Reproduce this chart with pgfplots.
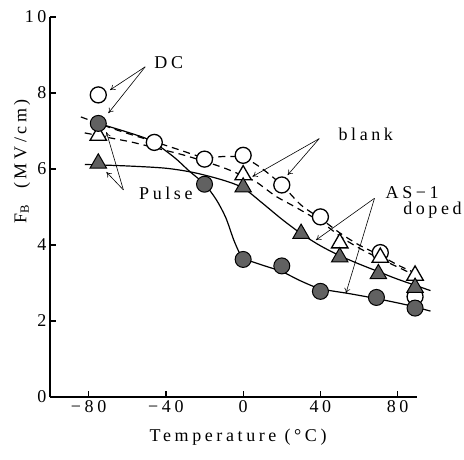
\documentclass[border=0pt]{standalone}
\usepackage{fontspec}
\setmainfont{Liberation Serif}
\newfontfamily\ls{Liberation Serif}[LetterSpace=20]
\usepackage{pgfplots}
\pgfplotsset{compat=1.18}
\usetikzlibrary{arrows.meta}
\newcommand{\lf}{\ls\fontsize{18}{20}\selectfont}
\begin{document}
\begin{tikzpicture}
\path[use as bounding box] (0,0) rectangle (464pt,459pt);
\begin{axis}[
  at={(50pt,62pt)}, anchor=south west,
  scale only axis, width=367pt, height=380pt,
  xmin=-100, xmax=90, ymin=0, ymax=10,
  axis x line=bottom, axis y line=left,
  axis line style={-, line width=1.4pt},
  tick align=inside, major tick length=6pt,
  tick style={line width=1.3pt, black},
  xtick={-80,-40,0,40,80}, xticklabels={−80,−40,0,40,80},
  ytick={0,2,4,6,8,10}, yticklabels={0,2,4,6,8,10},
  tick label style={font=\lf},
  clip=false,
  every axis plot/.append style={line width=1.2pt},
]
% curves
\addplot[black, smooth, dash pattern=on 7pt off 5pt] coordinates {
(-84,7.37) (-65,7.02) (-46,6.72) (-34,6.52) (-20,6.3) (-10,6.33) (0,6.3) (9,6.04) (20,5.58) (30,5.05) (40,4.7) (50,4.32) (60,4.0) (70,3.75) (81,3.45) (92,3.2)};
\addplot[black, smooth, dash pattern=on 7pt off 5pt] coordinates {
(-82,6.95) (-67,6.8) (-57,6.7) (-41,6.5) (-31,6.37) (-20,6.2) (-10,6.03) (0,5.82) (7,5.65) (17,5.28) (27,5.0) (41,4.58) (51,4.2) (60,3.92) (70,3.66) (85,3.3) (92,3.12)};
\addplot[black, smooth] coordinates {
(-75,7.2) (-60,6.97) (-48,6.75) (-36,6.32) (-28,5.95) (-20,5.6) (-14,5.2) (-9,4.72) (-5,4.15) (-2,3.8) (0,3.65) (10,3.47) (20,3.3) (30,3.05) (40,2.85) (55,2.72) (70,2.58) (85,2.42) (97,2.26)};
\addplot[black, smooth] coordinates {
(-82,6.12) (-60,6.08) (-40,6.02) (-25,5.9) (-10,5.7) (0,5.5) (10,5.1) (20,4.68) (30,4.3) (40,3.98) (50,3.72) (60,3.5) (70,3.3) (80,3.1) (97,2.8)};
% markers
\addplot[only marks, mark=*, mark size=8pt, mark options={fill=white, draw=black, line width=1.3pt}] coordinates {
(-75,7.95) (-46,6.7) (-20,6.26) (0,6.36) (20,5.58) (40,4.74) (71,3.8) (89,2.64)};
\addplot[only marks, mark=triangle*, mark size=9.5pt, mark options={fill=white, draw=black, line width=1.3pt}] coordinates {
(-75,6.88) (0,5.84) (50,4.05) (71,3.67) (89,3.2)};
\addplot[only marks, mark=triangle*, mark size=9.5pt, mark options={fill=black!62, draw=black, line width=1pt}] coordinates {
(-75,6.15) (0,5.52) (30,4.3) (50,3.68) (70,3.24) (89,2.88)};
\addplot[only marks, mark=*, mark size=8pt, mark options={fill=black!62, draw=black, line width=1pt}] coordinates {
(-75,7.2) (-20,5.6) (0,3.62) (20,3.45) (40,2.78) (69,2.62) (89,2.34)};
% labels
\node[rotate=90, font=\lf] at (axis cs:-114.5,6.2) {F\textsubscript{B}\ \ (MV/cm)};
\node[font=\lf] at (axis cs:-2.6,-1.05) {Temperature (°C)};
% annotations
\node[font=\lf] at (axis cs:-38.5,8.8) {DC};
\draw[line width=0.6pt, -{To[length=5pt,width=6pt]}] (axis cs:-50.7,8.69) -- (axis cs:-68.9,8.08);
\draw[line width=0.6pt, -{To[length=5pt,width=6pt]}] (axis cs:-50.7,8.69) -- (axis cs:-69.8,7.47);
\node[font=\lf] at (axis cs:63.5,6.9) {blank};
\draw[line width=0.6pt, -{To[length=5pt,width=6pt]}] (axis cs:39.4,6.8) -- (axis cs:4.8,5.8);
\draw[line width=0.6pt, -{To[length=5pt,width=6pt]}] (axis cs:39.4,6.8) -- (axis cs:23,5.84);
\node[font=\lf] at (axis cs:87.5,5.37) {AS−1};
\node[font=\lf] at (axis cs:98,4.92) {doped};
\draw[line width=0.6pt, -{To[length=5pt,width=6pt]}] (axis cs:68,5.23) -- (axis cs:37.7,4.13);
\draw[line width=0.6pt, -{To[length=5pt,width=6pt]}] (axis cs:68,5.23) -- (axis cs:53.2,2.73);
\node[font=\lf] at (axis cs:-40,5.37) {Pulse};
\draw[line width=0.6pt, -{To[length=5pt,width=6pt]}] (axis cs:-62,5.45) -- (axis cs:-70.8,6.97);
\draw[line width=0.6pt, -{To[length=5pt,width=6pt]}] (axis cs:-62,5.45) -- (axis cs:-70.8,5.92);
\end{axis}
\end{tikzpicture}
\end{document}
